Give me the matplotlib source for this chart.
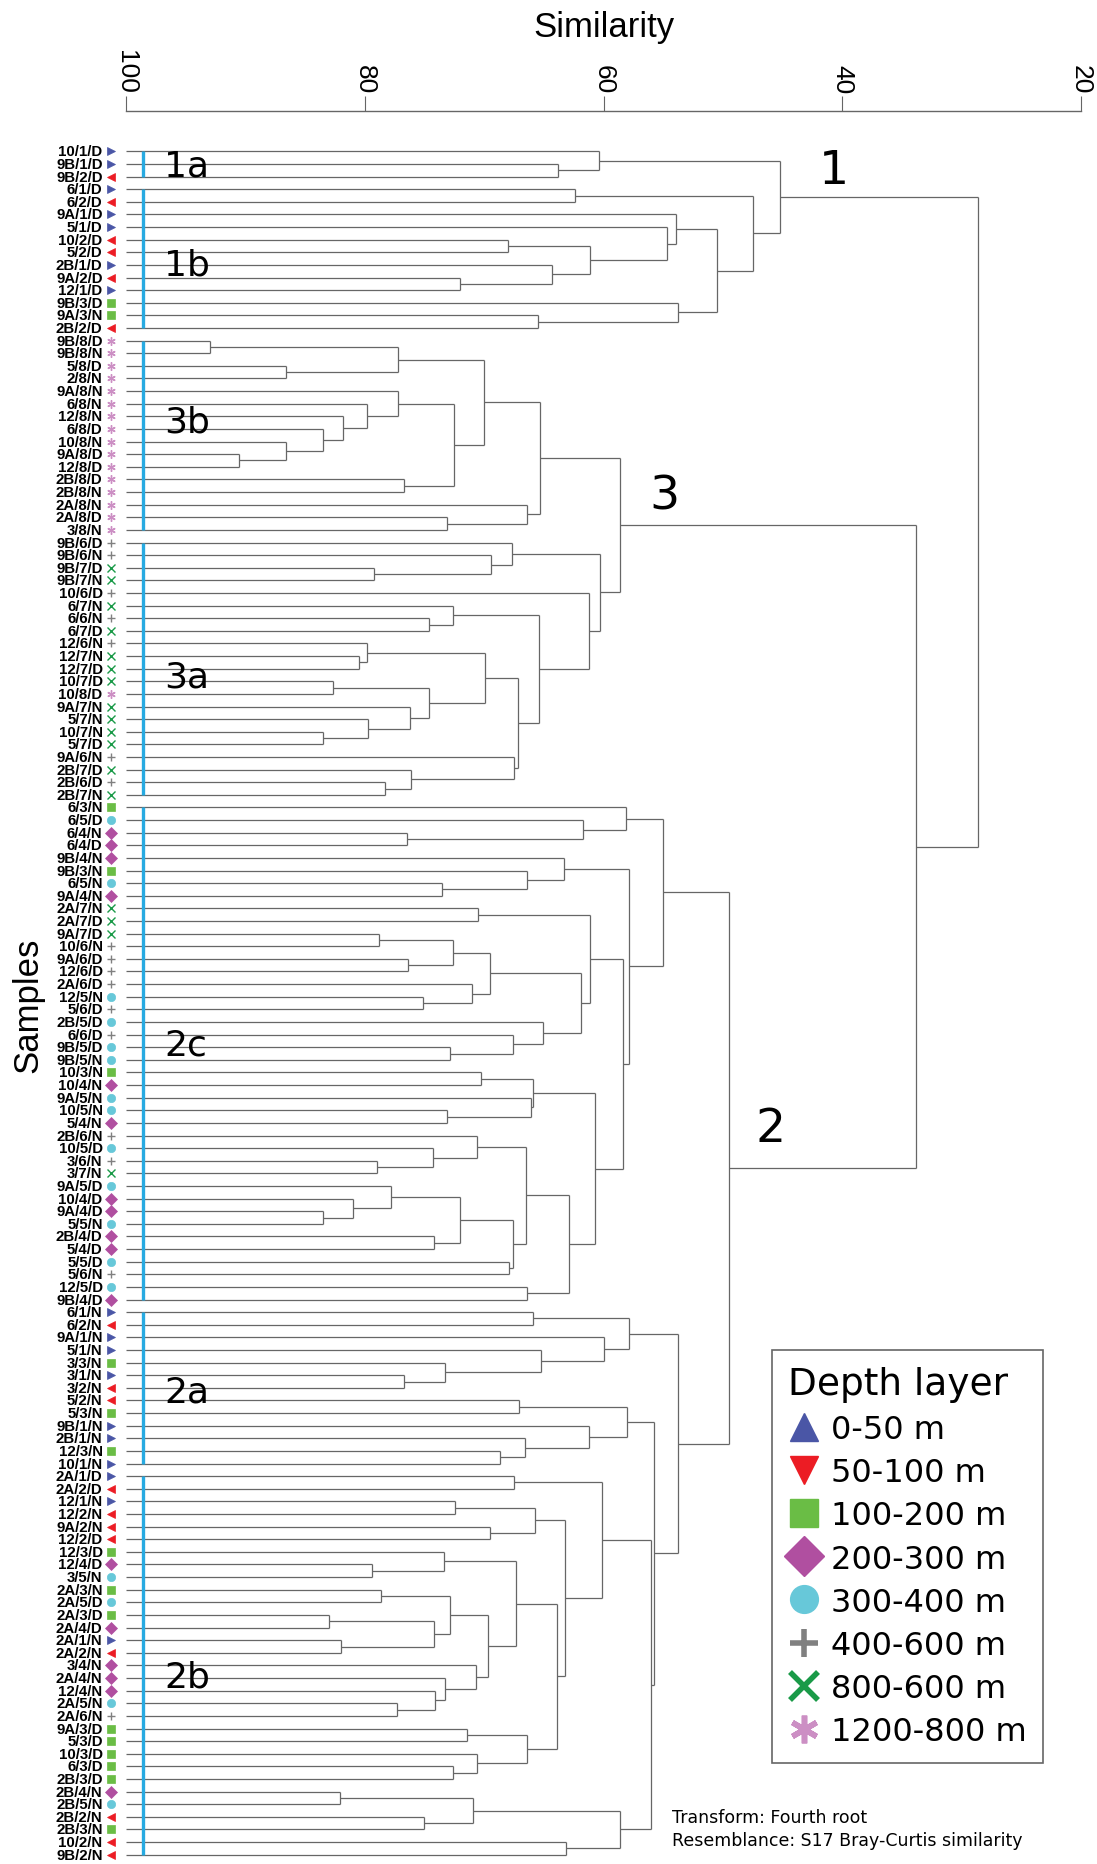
import matplotlib
matplotlib.use("Agg")
import matplotlib.pyplot as plt
from matplotlib.lines import Line2D

# ---- cluster tree: (left, right, similarity), leaves are sample codes ----
# group 1
c1a = ("10/1/D", ("9B/1/D", "9B/2/D", 63.8), 60.4)
n_1b_inner = (("10/2/D", "5/2/D", 68.0), ("2B/1/D", ("9A/2/D", "12/1/D", 72.0), 64.3), 61.1)
n_1b_a = ("9A/1/D", ("5/1/D", n_1b_inner, 54.7), 53.9)
n_1b_b = ("9B/3/D", ("9A/3/N", "2B/2/D", 65.5), 53.8)
c1b = (("6/1/D", "6/2/D", 62.4), (n_1b_a, n_1b_b, 50.5), 47.5)
g1 = (c1a, c1b, 45.2)

# group 3
n_3b_top = (("9B/8/D", "9B/8/N", 93.0), ("5/8/D", "2/8/N", 86.6), 77.2)
n_3b_chain = ("9A/8/N", ("6/8/N", ("12/8/N", ("6/8/D", ("10/8/N", ("9A/8/D", "12/8/D", 90.5),
              86.6), 83.5), 81.8), 79.8), 77.2)
c3b = ((n_3b_top, (n_3b_chain, ("2B/8/D", "2B/8/N", 76.7), 72.5), 70.0),
       ("2A/8/N", ("2A/8/D", "3/8/N", 73.1), 66.4), 65.3)
n_3a_9b = ("9B/6/D", ("9B/6/N", ("9B/7/D", "9B/7/N", 79.2), 69.4), 67.7)
n_3a_6 = ("6/7/N", ("6/6/N", "6/7/D", 74.6), 72.6)
n_3a_12 = ("12/6/N", ("12/7/N", "12/7/D", 80.5), 79.8)
n_3a_10 = (("10/7/D", "10/8/D", 82.7), ("9A/7/N", ("5/7/N", ("10/7/N", "5/7/D", 83.5), 79.7), 76.2), 74.6)
n_3a_2b = ("9A/6/N", ("2B/7/D", ("2B/6/D", "2B/7/N", 78.3), 76.1), 67.5)
c3a = (n_3a_9b, ("10/6/D", (n_3a_6, ((n_3a_12, n_3a_10, 69.9), n_3a_2b, 67.2), 65.4), 61.2), 60.3)
g3 = (c3b, c3a, 58.6)

# group 2c
n_2c_6 = ("6/3/N", ("6/5/D", ("6/4/N", "6/4/D", 76.5), 61.7), 58.1)
n_2c_9b = ("9B/4/N", ("9B/3/N", ("6/5/N", "9A/4/N", 73.5), 66.4), 63.3)
n_c1 = ((("9A/7/D", "10/6/N", 78.8), ("9A/6/D", "12/6/D", 76.4), 72.6),
        ("2A/6/D", ("12/5/N", "5/6/D", 75.1), 71.0), 69.5)
n_c2 = ("2B/5/D", ("6/6/D", ("9B/5/D", "9B/5/N", 72.9), 67.6), 65.1)
n_2c_c = (("2A/7/N", "2A/7/D", 70.5), (n_c1, n_c2, 61.9), 61.1)
n_d1 = (("10/3/N", "10/4/N", 70.3), ("9A/5/N", ("10/5/N", "5/4/N", 73.1), 66.1), 65.9)
n_d2a = ("2B/6/N", ("10/5/D", ("3/6/N", "3/7/N", 79.0), 74.3), 70.6)
n_d2b = ((("9A/5/D", ("10/4/D", ("9A/4/D", "5/5/N", 83.5), 81.0), 77.8), ("2B/4/D", "5/4/D", 74.2), 72.0),
         ("5/5/D", "5/6/N", 67.9), 67.6)
n_2c_d = (n_d1, ((n_d2a, n_d2b, 66.5), ("12/5/D", "9B/4/D", 66.4), 62.9), 60.7)
c2c = (n_2c_6, (n_2c_9b, (n_2c_c, n_2c_d, 58.4), 57.9), 55.0)

# group 2a / 2b
c2a_top = (("6/1/N", "6/2/N", 65.9), ("9A/1/N", ("5/1/N", ("3/3/N", ("3/1/N", "3/2/N", 76.7), 73.3), 65.2), 60.0), 57.9)
c2a_bot = (("5/2/N", "5/3/N", 67.1), ("9B/1/N", ("2B/1/N", ("12/3/N", "10/1/N", 68.7), 66.6), 61.2), 58.0)
n_b12 = (("12/1/N", "12/2/N", 72.4), ("9A/2/N", "12/2/D", 69.5), 65.7)
n_b123 = ("12/3/D", ("12/4/D", "3/5/N", 79.4), 73.4)
n_b2a = (("2A/3/N", "2A/5/D", 78.6), (("2A/3/D", "2A/4/D", 83.0), ("2A/1/N", "2A/2/N", 82.0), 74.2), 72.9)
n_b34 = ("3/4/N", ("2A/4/N", ("12/4/N", ("2A/5/N", "2A/6/N", 77.3), 74.1), 73.3), 70.7)
n_b3d = (("9A/3/D", "5/3/D", 71.4), ("10/3/D", ("6/3/D", "2B/3/D", 72.6), 70.6), 66.4)
c2b_top = (("2A/1/D", "2A/2/D", 67.5), (n_b12, ((n_b123, (n_b2a, n_b34, 69.7), 67.3), n_b3d, 63.9), 63.2), 60.1)
c2b_bot = ((("2B/4/N", "2B/5/N", 82.1), ("2B/2/N", "2B/3/N", 75.0), 70.9), ("10/2/N", "9B/2/N", 63.1), 58.6)
g2 = (c2c, (c2a_top, (c2a_bot, (c2b_top, c2b_bot, 56.0), 55.8), 53.8), 49.5)

root = (g1, (g3, g2, 33.8), 28.6)

# depth layers (middle field of the sample code)
layers = ["0-50 m", "50-100 m", "100-200 m", "200-300 m", "300-400 m", "400-600 m", "800-600 m", "1200-800 m"]
layer_colors = ["#4a56a6", "#ec1c24", "#6abd45", "#b04fa0", "#67c8d9", "#808080", "#1a9a48", "#cc8fc4"]
legend_markers = ["^", "v", "s", "D", "o", "+", "x", (6, 2, 0)]
leaf_markers = [">", "<", "s", "D", "o", "+", "x", (6, 2, 0)]

# sub-cluster bars: (label, first sample, last sample, label position in leaf units)
subclusters = [("1a", "10/1/D", "9B/2/D", 1.1), ("1b", "6/1/D", "2B/2/D", 9.0),
               ("3b", "9B/8/D", "3/8/N", 21.4), ("3a", "9B/6/D", "2B/7/N", 41.6),
               ("2c", "6/3/N", "9B/4/D", 70.8), ("2a", "6/1/N", "10/1/N", 98.3),
               ("2b", "2A/1/D", "9B/2/N", 120.9)]
# main cluster numbers: (text, similarity, leaf position of baseline)
main_labels = [("1", 40.7, 2.5), ("3", 54.9, 28.3), ("2", 46.0, 78.4)]

plt.rcParams['font.family'] = ['DejaVu Sans']

fig = plt.figure(figsize=(10.97, 18.65), dpi=100)
ax = fig.add_axes([126 / 1097, 3 / 1865, 955 / 1097, 1750 / 1865])
ax.set_xlim(100, 20)
ax.set_ylim(135.5, -3.2)

order = []
line_kw = dict(color="#666666", lw=0.9, solid_capstyle="butt")


def draw(node):
    if isinstance(node, str):
        order.append(node)
        return 100.0, len(order) - 1
    left, right, s = node
    xl, yl = draw(left)
    xr, yr = draw(right)
    ax.plot([xl, s], [yl, yl], **line_kw)
    ax.plot([xr, s], [yr, yr], **line_kw)
    ax.plot([s, s], [yl, yr], **line_kw)
    return s, (yl + yr) / 2


draw(root)

ytr = ax.get_yaxis_transform()
for i, name in enumerate(order):
    ax.text(-0.0245, i, name, transform=ytr, ha="right", va="center", fontsize=10.8,
            fontweight="bold", family=["Liberation Sans", "DejaVu Sans"])
    k = int(name.split("/")[1]) - 1
    ax.plot([-0.0162], [i], transform=ytr, clip_on=False, linestyle="None",
            marker=leaf_markers[k], color=layer_colors[k], markersize=6,
            mew=1.0 if k >= 5 else 0.5)

for lab, first, last, ypos in subclusters:
    ax.plot([0.0173, 0.0173], [order.index(first), order.index(last)], transform=ytr,
            color="#27aae1", lw=2.4, solid_capstyle="butt")
    ax.text(0.040, ypos, lab, transform=ytr, ha="left", va="center", fontsize=26,
            family=["Liberation Sans Narrow", "DejaVu Sans"])

for lab, s, yb in main_labels:
    ax.text(s, yb, lab, ha="center", va="baseline", fontsize=34)

# top similarity axis
for side in ["left", "right", "bottom"]:
    ax.spines[side].set_visible(False)
ax.spines["top"].set_color("#666666")
ax.spines["top"].set_linewidth(1.0)
ax.xaxis.tick_top()
ax.set_xticks([100, 80, 60, 40, 20])
ax.tick_params(axis="x", direction="out", length=11, width=0.8, color="#666666",
               pad=2, labelsize=19, labelrotation=270)
for t in ax.get_xticklabels():
    t.set_family(["Liberation Sans", "DejaVu Sans"])
ax.set_yticks([])

fig.text(604 / 1097, 1 - 28 / 1865, "Similarity", ha="center", va="center", fontsize=25,
         family=["Liberation Sans", "DejaVu Sans"])
fig.text(28 / 1097, 1 - 1005 / 1865, "Samples", ha="center", va="center", rotation=90,
         fontsize=25, family=["Liberation Sans", "DejaVu Sans"])

# legend
handles = []
for k in range(len(layers)):
    handles.append(Line2D([], [], linestyle="None", marker=legend_markers[k], color=layer_colors[k],
                          markersize=20, mew=4 if k >= 5 else 1))
leg = fig.legend(handles, layers, loc="upper left", bbox_to_anchor=(772 / 1097, 1 - 1351 / 1865),
                 bbox_transform=fig.transFigure, borderaxespad=0, fontsize=23, title="Depth layer",
                 title_fontsize=27, alignment="left", fancybox=False, framealpha=1,
                 edgecolor="#666666", handlelength=1.0, handletextpad=0.35, labelspacing=0.38,
                 borderpad=0.5)
leg.get_frame().set_linewidth(1.2)

fig.text(672 / 1097, 1 - 1818 / 1865, "Transform: Fourth root", ha="left", va="center", fontsize=12.5)
fig.text(672 / 1097, 1 - 1841 / 1865, "Resemblance: S17 Bray-Curtis similarity", ha="left",
         va="center", fontsize=12.5)

fig.savefig("out.png", dpi=100)
